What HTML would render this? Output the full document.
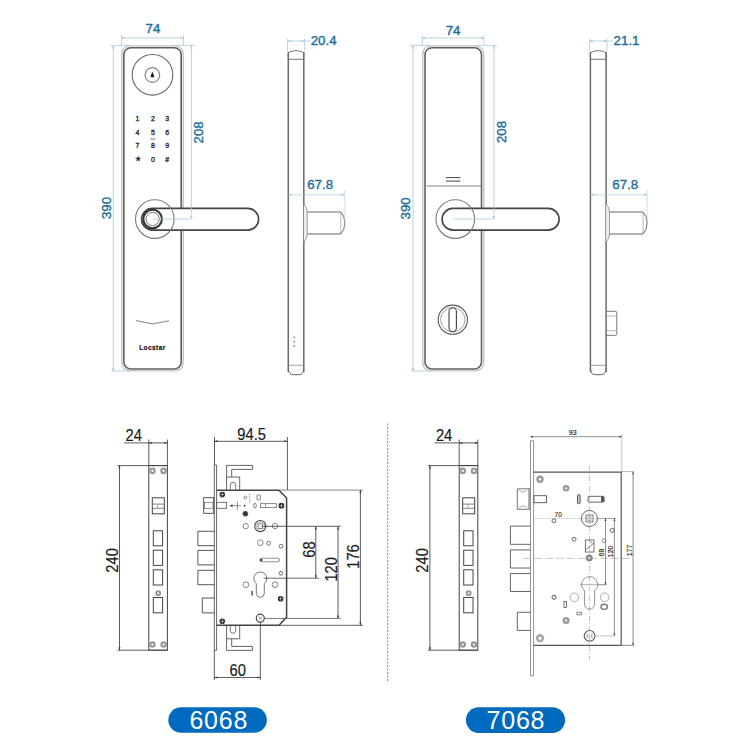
<!DOCTYPE html><html><head><meta charset="utf-8"><style>
html,body{margin:0;padding:0;background:#fff;}
svg{display:block;font-family:"Liberation Sans",sans-serif;}
</style></head><body>
<svg width="750" height="750" viewBox="0 0 750 750">
<rect width="750" height="750" fill="#fff"/>
<line x1="121.5" y1="35" x2="121.5" y2="45.5" stroke="#a6cbdc" stroke-width="0.8" />
<line x1="183.5" y1="35" x2="183.5" y2="45.5" stroke="#a6cbdc" stroke-width="0.8" />
<line x1="121.5" y1="37.9" x2="183.5" y2="37.9" stroke="#a6cbdc" stroke-width="0.8"/>
<path d="M121.5,37.9 l3,-1.2 v2.4z M183.5,37.9 l-3,-1.2 v2.4z" fill="#a6cbdc"/>
<text x="153" y="33" font-size="13.3" fill="#1f6f9c" text-anchor="middle" stroke="#1f6f9c" stroke-width="0.4">74</text>
<line x1="110.2" y1="45.4" x2="129.5" y2="45.4" stroke="#a6cbdc" stroke-width="0.8" />
<line x1="111.2" y1="370.9" x2="133.2" y2="370.9" stroke="#a6cbdc" stroke-width="0.8" />
<line x1="113.2" y1="45.4" x2="113.2" y2="370.9" stroke="#a6cbdc" stroke-width="0.8"/>
<path d="M113.2,45.4 l-1.2,3 h2.4z M113.2,370.9 l-1.2,-3 h2.4z" fill="#a6cbdc"/>
<text x="110.8" y="208" font-size="13.3" fill="#1f6f9c" text-anchor="middle" transform="rotate(-90 110.8 208)" stroke="#1f6f9c" stroke-width="0.4">390</text>
<line x1="175.5" y1="45.4" x2="194.4" y2="45.4" stroke="#a6cbdc" stroke-width="0.8" />
<line x1="191.4" y1="45.4" x2="191.4" y2="219" stroke="#a6cbdc" stroke-width="0.8"/>
<path d="M191.4,45.4 l-1.2,3 h2.4z M191.4,219 l-1.2,-3 h2.4z" fill="#a6cbdc"/>
<text x="203.2" y="132.4" font-size="13.3" fill="#1f6f9c" text-anchor="middle" transform="rotate(-90 203.2 132.4)" stroke="#1f6f9c" stroke-width="0.4">208</text>
<rect x="121.9" y="45.9" width="61.29999999999998" height="325" rx="8" fill="none" stroke="#c4c4c4" stroke-width="1.4"/>
<rect x="123.9" y="47.7" width="57.29999999999998" height="321.3" rx="7" fill="none" stroke="#606060" stroke-width="1.6"/>
<line x1="422.3" y1="35" x2="422.3" y2="45.5" stroke="#a6cbdc" stroke-width="0.8" />
<line x1="483.9" y1="35" x2="483.9" y2="45.5" stroke="#a6cbdc" stroke-width="0.8" />
<line x1="422.3" y1="37.9" x2="483.9" y2="37.9" stroke="#a6cbdc" stroke-width="0.8"/>
<path d="M422.3,37.9 l3,-1.2 v2.4z M483.9,37.9 l-3,-1.2 v2.4z" fill="#a6cbdc"/>
<text x="453.1" y="35.3" font-size="13.3" fill="#1f6f9c" text-anchor="middle" stroke="#1f6f9c" stroke-width="0.4">74</text>
<line x1="410" y1="45.4" x2="430.3" y2="45.4" stroke="#a6cbdc" stroke-width="0.8" />
<line x1="411" y1="370.9" x2="433" y2="370.9" stroke="#a6cbdc" stroke-width="0.8" />
<line x1="413" y1="45.4" x2="413" y2="370.9" stroke="#a6cbdc" stroke-width="0.8"/>
<path d="M413,45.4 l-1.2,3 h2.4z M413,370.9 l-1.2,-3 h2.4z" fill="#a6cbdc"/>
<text x="410.4" y="208.4" font-size="13.3" fill="#1f6f9c" text-anchor="middle" transform="rotate(-90 410.4 208.4)" stroke="#1f6f9c" stroke-width="0.4">390</text>
<line x1="475.9" y1="45.4" x2="496.9" y2="45.4" stroke="#a6cbdc" stroke-width="0.8" />
<line x1="493.9" y1="45.4" x2="493.9" y2="219" stroke="#a6cbdc" stroke-width="0.8"/>
<path d="M493.9,45.4 l-1.2,3 h2.4z M493.9,219 l-1.2,-3 h2.4z" fill="#a6cbdc"/>
<text x="505.5" y="132" font-size="13.3" fill="#1f6f9c" text-anchor="middle" transform="rotate(-90 505.5 132)" stroke="#1f6f9c" stroke-width="0.4">208</text>
<rect x="422.7" y="45.9" width="61.0" height="325" rx="8" fill="none" stroke="#c4c4c4" stroke-width="1.4"/>
<rect x="425" y="47.7" width="56.5" height="321.3" rx="7" fill="none" stroke="#606060" stroke-width="1.6"/>
<circle cx="152.5" cy="74.8" r="20.3" fill="none" stroke="#666" stroke-width="1.1"/>
<circle cx="152.4" cy="75" r="7.3" fill="none" stroke="#888" stroke-width="1.2"/>
<path d="M152.4,71.6 L150.5,76.6 Q152.4,78.6 154.3,76.6 Z" fill="#222"/>
<text x="137.5" y="121.3" font-size="7" fill="#333" text-anchor="middle" stroke="#333" stroke-width="0.35">1</text>
<text x="152.9" y="121.3" font-size="7" fill="#333" text-anchor="middle" stroke="#333" stroke-width="0.35">2</text>
<text x="167.3" y="121.3" font-size="7" fill="#333" text-anchor="middle" stroke="#333" stroke-width="0.35">3</text>
<text x="137.5" y="134.7" font-size="7" fill="#333" text-anchor="middle" stroke="#333" stroke-width="0.35">4</text>
<text x="152.9" y="134.7" font-size="7" fill="#333" text-anchor="middle" stroke="#333" stroke-width="0.35">5</text>
<text x="167.3" y="134.7" font-size="7" fill="#333" text-anchor="middle" stroke="#333" stroke-width="0.35">6</text>
<text x="137.5" y="148.1" font-size="7" fill="#333" text-anchor="middle" stroke="#333" stroke-width="0.35">7</text>
<text x="152.9" y="148.1" font-size="7" fill="#333" text-anchor="middle" stroke="#333" stroke-width="0.35">8</text>
<text x="167.3" y="148.1" font-size="7" fill="#333" text-anchor="middle" stroke="#333" stroke-width="0.35">9</text>
<text x="137.5" y="160.8" font-size="6.5" fill="#333" text-anchor="middle" stroke="#333" stroke-width="0.35">★</text>
<text x="152.9" y="161.5" font-size="7" fill="#333" text-anchor="middle" stroke="#333" stroke-width="0.35">0</text>
<text x="167.3" y="161.5" font-size="7" fill="#333" text-anchor="middle" stroke="#333" stroke-width="0.35">#</text>
<path d="M150.3,138.3 h5.2 M150.3,139.6 h5.2" stroke="#666" stroke-width="0.5"/>
<rect x="141.6" y="208.4" width="117.00000000000003" height="21.7" rx="10.85" fill="#fff" stroke="#454545" stroke-width="1.6"/>
<circle cx="154.8" cy="219.1" r="19.3" fill="none" stroke="#7a7a7a" stroke-width="1.1"/>
<circle cx="152.6" cy="219" r="9.3" fill="none" stroke="#333" stroke-width="2"/>
<circle cx="152.6" cy="219" r="6.6" fill="none" stroke="#666" stroke-width="0.9"/>
<line x1="153" y1="219" x2="191.4" y2="219" stroke="#a6cbdc" stroke-width="0.8" />
<line x1="191.4" y1="206" x2="191.4" y2="219" stroke="#a6cbdc" stroke-width="0.8" />
<path d="M191.4,219 l-1.2,-3 h2.4z" fill="#a6cbdc"/>
<path d="M136,320.6 L152.5,323.8 L169,320.9" fill="none" stroke="#999" stroke-width="1.3"/>
<text x="152.5" y="350" font-size="6.4" fill="#111" text-anchor="middle" font-weight="bold" letter-spacing="0.5" stroke="#111" stroke-width="0.2">Locstar</text>
<line x1="426.5" y1="186" x2="481.3" y2="186" stroke="#777" stroke-width="0.9" />
<path d="M446,177.6 H460.4 M446,181.1 H460.4" stroke="#444" stroke-width="1"/>
<rect x="442.1" y="208.4" width="117.0" height="21.7" rx="10.85" fill="#fff" stroke="#454545" stroke-width="1.6"/>
<circle cx="455.3" cy="219.1" r="19.3" fill="none" stroke="#7a7a7a" stroke-width="1.1"/>
<line x1="453.9" y1="219" x2="493.9" y2="219" stroke="#a6cbdc" stroke-width="0.8" />
<line x1="493.9" y1="206" x2="493.9" y2="219" stroke="#a6cbdc" stroke-width="0.8" />
<path d="M493.9,219 l-1.2,-3 h2.4z" fill="#a6cbdc"/>
<circle cx="452.8" cy="319.7" r="14.6" fill="none" stroke="#555" stroke-width="1.1"/>
<circle cx="452.8" cy="319.7" r="12.2" fill="none" stroke="#888" stroke-width="0.8"/>
<rect x="449" y="307.8" width="7.4" height="24" rx="3.7" fill="none" stroke="#444" stroke-width="1.1"/>
<line x1="287.5" y1="38.5" x2="287.5" y2="51" stroke="#a6cbdc" stroke-width="0.8" />
<line x1="304.6" y1="38.5" x2="304.6" y2="51" stroke="#a6cbdc" stroke-width="0.8" />
<line x1="287.5" y1="41" x2="304.6" y2="41" stroke="#a6cbdc" stroke-width="0.8"/>
<path d="M287.5,41 l3,-1.2 v2.4z M304.6,41 l-3,-1.2 v2.4z" fill="#a6cbdc"/>
<line x1="304.6" y1="41" x2="310.8" y2="41" stroke="#a6cbdc" stroke-width="0.8" />
<text x="310.7" y="45.3" font-size="13.3" fill="#1f6f9c" text-anchor="start" stroke="#1f6f9c" stroke-width="0.4">20.4</text>
<path d="M288.3,58 V52.6 Q296.05,48.6 303.8,52.6 V58" fill="none" stroke="#666" stroke-width="0.9"/>
<line x1="288.3" y1="59.3" x2="303.8" y2="59.3" stroke="#666" stroke-width="0.9" />
<line x1="288.3" y1="52" x2="288.3" y2="372" stroke="#6a6a6a" stroke-width="1.5" />
<line x1="303.8" y1="52" x2="303.8" y2="372" stroke="#6a6a6a" stroke-width="1.5" />
<line x1="288.3" y1="365.3" x2="303.8" y2="365.3" stroke="#888" stroke-width="0.8" />
<path d="M288.3,368 Q288.3,374.7 293.3,374.7 H298.8 Q303.8,374.7 303.8,368" fill="none" stroke="#666" stroke-width="1"/>
<path d="M303.8,203.5 Q307.2,208 307.2,212 V234 Q307.2,238 303.8,242.5" fill="#eee" stroke="#888" stroke-width="0.8"/>
<path d="M307.2,212 H340.8 Q344.8,216 344.8,223 Q344.8,230 340.8,234 H307.2" fill="none" stroke="#666" stroke-width="1"/>
<line x1="340.8" y1="212" x2="340.8" y2="234" stroke="#999" stroke-width="0.7" />
<line x1="288.3" y1="194.8" x2="344.8" y2="194.8" stroke="#a6cbdc" stroke-width="0.7" />
<path d="M288.3,194.8 l3,-1.2 v2.4z M344.8,194.8 l-3,-1.2 v2.4z" fill="#a6cbdc"/>
<line x1="344.8" y1="190" x2="344.8" y2="226" stroke="#a6cbdc" stroke-width="0.6" />
<text x="320.1" y="188.9" font-size="13.3" fill="#1f6f9c" text-anchor="middle" stroke="#1f6f9c" stroke-width="0.4">67.8</text>
<line x1="589.6" y1="38.5" x2="589.6" y2="51" stroke="#a6cbdc" stroke-width="0.8" />
<line x1="606.9" y1="38.5" x2="606.9" y2="51" stroke="#a6cbdc" stroke-width="0.8" />
<line x1="589.6" y1="41" x2="606.9" y2="41" stroke="#a6cbdc" stroke-width="0.8"/>
<path d="M589.6,41 l3,-1.2 v2.4z M606.9,41 l-3,-1.2 v2.4z" fill="#a6cbdc"/>
<line x1="606.9" y1="41" x2="613.1" y2="41" stroke="#a6cbdc" stroke-width="0.8" />
<text x="613.6" y="45.3" font-size="13.3" fill="#1f6f9c" text-anchor="start" stroke="#1f6f9c" stroke-width="0.4">21.1</text>
<path d="M590.4,58 V52.6 Q598.25,48.6 606.1,52.6 V58" fill="none" stroke="#666" stroke-width="0.9"/>
<line x1="590.4" y1="59.3" x2="606.1" y2="59.3" stroke="#666" stroke-width="0.9" />
<line x1="590.4" y1="52" x2="590.4" y2="372" stroke="#6a6a6a" stroke-width="1.5" />
<line x1="606.1" y1="52" x2="606.1" y2="372" stroke="#6a6a6a" stroke-width="1.5" />
<line x1="590.4" y1="365.3" x2="606.1" y2="365.3" stroke="#888" stroke-width="0.8" />
<path d="M590.4,368 Q590.4,374.7 595.4,374.7 H601.1 Q606.1,374.7 606.1,368" fill="none" stroke="#666" stroke-width="1"/>
<path d="M606.1,203.5 Q609.5,208 609.5,212 V234 Q609.5,238 606.1,242.5" fill="#eee" stroke="#888" stroke-width="0.8"/>
<path d="M609.5,212 H643.1 Q647.1,216 647.1,223 Q647.1,230 643.1,234 H609.5" fill="none" stroke="#666" stroke-width="1"/>
<line x1="643.1" y1="212" x2="643.1" y2="234" stroke="#999" stroke-width="0.7" />
<line x1="590.4" y1="194.8" x2="647.1" y2="194.8" stroke="#a6cbdc" stroke-width="0.7" />
<path d="M590.4,194.8 l3,-1.2 v2.4z M647.1,194.8 l-3,-1.2 v2.4z" fill="#a6cbdc"/>
<line x1="647.1" y1="190" x2="647.1" y2="226" stroke="#a6cbdc" stroke-width="0.6" />
<text x="625.3" y="188.9" font-size="13.3" fill="#1f6f9c" text-anchor="middle" stroke="#1f6f9c" stroke-width="0.4">67.8</text>
<circle cx="294.3" cy="337.3" r="1" fill="#999"/>
<circle cx="294.3" cy="341.7" r="1" fill="#999"/>
<circle cx="294.3" cy="346.1" r="1" fill="#999"/>
<path d="M606.3,311.3 H615.5 Q616.8,311.3 616.8,313 V333.5 Q616.8,335.3 615.5,335.3 H606.3" fill="none" stroke="#666" stroke-width="0.9"/>
<line x1="606.3" y1="316" x2="616.8" y2="316" stroke="#999" stroke-width="0.7" />
<line x1="606.3" y1="330.7" x2="616.8" y2="330.7" stroke="#999" stroke-width="0.7" />
<text x="0" y="0" font-size="16" fill="#1a1a1a" text-anchor="middle" transform="translate(133.7 441) rotate(0) scale(0.92 1)" stroke="#1a1a1a" stroke-width="0.2">24</text>
<line x1="124" y1="442.9" x2="167.4" y2="442.9" stroke="#333" stroke-width="0.8" />
<path d="M148.8,442.9 l3,-1 v2z M167.4,442.9 l-3,-1 v2z" fill="#333"/>
<line x1="148.8" y1="439.5" x2="148.8" y2="465.6" stroke="#333" stroke-width="0.8" />
<line x1="167.4" y1="439.5" x2="167.4" y2="465.6" stroke="#333" stroke-width="0.8" />
<line x1="117.5" y1="465.6" x2="167.4" y2="465.6" stroke="#333" stroke-width="0.8" />
<line x1="117.5" y1="650.2" x2="167.4" y2="650.2" stroke="#333" stroke-width="0.8" />
<line x1="119.5" y1="465.6" x2="119.5" y2="650.2" stroke="#333" stroke-width="0.8" />
<path d="M119.5,465.6 l-1,3 h2z M119.5,650.2 l-1,-3 h2z" fill="#333"/>
<text x="0" y="0" font-size="16" fill="#1a1a1a" text-anchor="middle" transform="translate(117.6 560.4) rotate(-90) scale(0.92 1)" stroke="#1a1a1a" stroke-width="0.2">240</text>
<rect x="148.8" y="465.6" width="18.599999999999994" height="184.60000000000002" fill="none" stroke="#444" stroke-width="1"/>
<circle cx="152.4" cy="470.9" r="2.2" fill="none" stroke="#999" stroke-width="2.2"/>
<circle cx="163.6" cy="470.9" r="2.2" fill="none" stroke="#999" stroke-width="2.2"/>
<circle cx="152.4" cy="644.5" r="2.2" fill="none" stroke="#999" stroke-width="2.2"/>
<circle cx="163.6" cy="644.5" r="2.2" fill="none" stroke="#999" stroke-width="2.2"/>
<rect x="152.3" y="497.8" width="12" height="16" fill="none" stroke="#444" stroke-width="1"/>
<line x1="152.3" y1="504.1" x2="164.3" y2="504.1" stroke="#666" stroke-width="0.8" />
<line x1="152.3" y1="508.3" x2="164.3" y2="508.3" stroke="#666" stroke-width="0.8" />
<line x1="157.6" y1="504.1" x2="157.6" y2="508.3" stroke="#888" stroke-width="0.7" />
<rect x="153.3" y="530.8" width="9.3" height="15.0" fill="none" stroke="#444" stroke-width="1"/>
<rect x="153.3" y="550.2" width="9.3" height="15.199999999999932" fill="none" stroke="#444" stroke-width="1"/>
<rect x="153.3" y="569.8" width="9.3" height="15.200000000000045" fill="none" stroke="#444" stroke-width="1"/>
<rect x="153.3" y="597.5" width="9.3" height="15.299999999999955" fill="none" stroke="#444" stroke-width="1"/>
<circle cx="158.2" cy="593.2" r="2" fill="none" stroke="#999" stroke-width="2"/>
<text x="0" y="0" font-size="16" fill="#1a1a1a" text-anchor="middle" transform="translate(444.09999999999997 441) rotate(0) scale(0.92 1)" stroke="#1a1a1a" stroke-width="0.2">24</text>
<line x1="434.4" y1="442.9" x2="477.79999999999995" y2="442.9" stroke="#333" stroke-width="0.8" />
<path d="M459.2,442.9 l3,-1 v2z M477.79999999999995,442.9 l-3,-1 v2z" fill="#333"/>
<line x1="459.2" y1="439.5" x2="459.2" y2="465.6" stroke="#333" stroke-width="0.8" />
<line x1="477.79999999999995" y1="439.5" x2="477.79999999999995" y2="465.6" stroke="#333" stroke-width="0.8" />
<line x1="427.9" y1="465.6" x2="477.79999999999995" y2="465.6" stroke="#333" stroke-width="0.8" />
<line x1="427.9" y1="650.2" x2="477.79999999999995" y2="650.2" stroke="#333" stroke-width="0.8" />
<line x1="429.9" y1="465.6" x2="429.9" y2="650.2" stroke="#333" stroke-width="0.8" />
<path d="M429.9,465.6 l-1,3 h2z M429.9,650.2 l-1,-3 h2z" fill="#333"/>
<text x="0" y="0" font-size="16" fill="#1a1a1a" text-anchor="middle" transform="translate(428.0 560.4) rotate(-90) scale(0.92 1)" stroke="#1a1a1a" stroke-width="0.2">240</text>
<rect x="459.2" y="465.6" width="18.599999999999966" height="184.60000000000002" fill="none" stroke="#444" stroke-width="1"/>
<circle cx="462.79999999999995" cy="470.9" r="2.2" fill="none" stroke="#999" stroke-width="2.2"/>
<circle cx="474.0" cy="470.9" r="2.2" fill="none" stroke="#999" stroke-width="2.2"/>
<circle cx="462.79999999999995" cy="644.5" r="2.2" fill="none" stroke="#999" stroke-width="2.2"/>
<circle cx="474.0" cy="644.5" r="2.2" fill="none" stroke="#999" stroke-width="2.2"/>
<rect x="462.7" y="497.8" width="12" height="16" fill="none" stroke="#444" stroke-width="1"/>
<line x1="462.7" y1="504.1" x2="474.7" y2="504.1" stroke="#666" stroke-width="0.8" />
<line x1="462.7" y1="508.3" x2="474.7" y2="508.3" stroke="#666" stroke-width="0.8" />
<line x1="468.0" y1="504.1" x2="468.0" y2="508.3" stroke="#888" stroke-width="0.7" />
<rect x="463.7" y="530.8" width="9.3" height="15.0" fill="none" stroke="#444" stroke-width="1"/>
<rect x="463.7" y="550.2" width="9.3" height="15.199999999999932" fill="none" stroke="#444" stroke-width="1"/>
<rect x="463.7" y="569.8" width="9.3" height="15.200000000000045" fill="none" stroke="#444" stroke-width="1"/>
<rect x="463.7" y="597.5" width="9.3" height="15.299999999999955" fill="none" stroke="#444" stroke-width="1"/>
<circle cx="468.59999999999997" cy="593.2" r="2" fill="none" stroke="#999" stroke-width="2"/>
<text x="0" y="0" font-size="16" fill="#1a1a1a" text-anchor="middle" transform="translate(251.6 439.5) rotate(0) scale(0.92 1)" stroke="#1a1a1a" stroke-width="0.2">94.5</text>
<line x1="214.5" y1="441.3" x2="287.4" y2="441.3" stroke="#333" stroke-width="0.8" />
<path d="M214.5,441.3 l3,-1 v2z M287.4,441.3 l-3,-1 v2z" fill="#333"/>
<line x1="214.5" y1="437" x2="214.5" y2="465" stroke="#333" stroke-width="0.8" />
<line x1="287.4" y1="437" x2="287.4" y2="490" stroke="#333" stroke-width="0.8" />
<path d="M214.3,465 V650.4 H216.6 V465 Z" fill="none" stroke="#555" stroke-width="0.9"/>
<path d="M226.6,490.3 V465.4 H252.6 V469.4 H231.7 V477 M226.6,477 H239.7 V490.3" fill="none" stroke="#555" stroke-width="0.9"/>
<path d="M230.3,489.5 V485 A2.7,2.7 0 0 1 235.7,485 V489.5" fill="none" stroke="#555" stroke-width="0.8"/>
<path d="M226.6,625.3 V650.4 H252.6 V646.4 H231.7 V638.8 M226.6,638.8 H239.7 V625.3" fill="none" stroke="#555" stroke-width="0.9"/>
<path d="M230.3,626 V630.6 A2.7,2.7 0 0 0 235.7,630.6 V626" fill="none" stroke="#555" stroke-width="0.8"/>
<path d="M216.6,490.3 H279 L286.6,498 V617.3 L279,625.3 H216.6" fill="none" stroke="#444" stroke-width="1.5"/>
<line x1="279" y1="490.1" x2="363" y2="490.1" stroke="#777" stroke-width="0.9" />
<line x1="279" y1="625.3" x2="363" y2="625.3" stroke="#555" stroke-width="0.9" />
<path d="M214.3,531.3 H197.9 V545.7 H214.3" fill="none" stroke="#444" stroke-width="0.9"/>
<path d="M214.3,550.4 H197.9 V564.9 H214.3" fill="none" stroke="#444" stroke-width="0.9"/>
<path d="M214.3,570.3 H197.9 V584.7 H214.3" fill="none" stroke="#444" stroke-width="0.9"/>
<path d="M214.3,598 H202.3 V612.9 H214.3" fill="none" stroke="#444" stroke-width="0.9"/>
<rect x="203.7" y="497.7" width="10" height="15.6" fill="none" stroke="#444" stroke-width="0.9"/>
<rect x="204.5" y="502.3" width="8.5" height="6" fill="none" stroke="#666" stroke-width="0.7"/>
<rect x="216.6" y="502.3" width="10" height="6" fill="none" stroke="#555" stroke-width="0.8"/>
<circle cx="222.3" cy="494.6" r="2.8" fill="#222"/>
<path d="M220.1,494.6 h4.3999999999999995 M222.3,492.40000000000003 v4.3999999999999995" stroke="#fff" stroke-width="0.5"/>
<path d="M230.3,505.7 H241 M230.3,505.7 l2,-1 v2z M237.4,501.5 v8.4" stroke="#444" stroke-width="0.6" fill="#444"/>
<circle cx="244.6" cy="505.7" r="0.9" fill="#333"/>
<circle cx="245.4" cy="497.4" r="1.4" fill="none" stroke="#555" stroke-width="0.7"/>
<line x1="249.7" y1="493.7" x2="249.7" y2="503" stroke="#555" stroke-width="0.7" stroke-dasharray="1.2 1"/>
<rect x="257" y="495" width="3.4" height="4.8" rx="0.6" fill="none" stroke="#555" stroke-width="0.7"/>
<ellipse cx="255" cy="505.7" rx="1.3" ry="2.4" fill="none" stroke="#555" stroke-width="0.7"/>
<rect x="260.3" y="503.7" width="16" height="4" fill="none" stroke="#555" stroke-width="0.7"/>
<line x1="265.6" y1="503.7" x2="265.6" y2="507.7" stroke="#555" stroke-width="0.6" />
<circle cx="281.4" cy="505.7" r="2.9" fill="#222"/>
<path d="M279.1,505.7 h4.6 M281.4,503.40000000000003 v4.6" stroke="#fff" stroke-width="0.5"/>
<circle cx="245.4" cy="513.7" r="2.6" fill="#333" stroke="#888" stroke-width="0.6"/>
<circle cx="245.7" cy="526.1" r="2.7" fill="none" stroke="#777" stroke-width="0.9"/>
<circle cx="275" cy="526.1" r="2.7" fill="none" stroke="#777" stroke-width="0.9"/>
<circle cx="260.3" cy="526.1" r="5.6" fill="none" stroke="#444" stroke-width="1.1"/>
<circle cx="260.3" cy="526.1" r="4.3" fill="none" stroke="#888" stroke-width="0.6"/>
<rect x="258" y="523.8" width="4.6" height="4.6" fill="none" stroke="#555" stroke-width="0.7"/>
<line x1="261.7" y1="526.3" x2="340.7" y2="526.3" stroke="#333" stroke-width="0.8" />
<circle cx="260.3" cy="542.7" r="2.9" fill="none" stroke="#777" stroke-width="0.9"/>
<circle cx="268.6" cy="543.3" r="1.9" fill="none" stroke="#555" stroke-width="0.8"/>
<circle cx="281" cy="546.3" r="1.9" fill="none" stroke="#555" stroke-width="0.8"/>
<rect x="259.7" y="558.3" width="20" height="3.4" rx="1.7" fill="none" stroke="#666" stroke-width="0.7"/>
<circle cx="261.3" cy="560" r="1.2" fill="#333"/>
<circle cx="281" cy="573.3" r="1.9" fill="none" stroke="#555" stroke-width="0.8"/>
<path d="M256.3,583.6 A6.5,6.5 0 1 1 264.3,583.6 V593.3 A4,4 0 0 1 256.3,593.3 Z" fill="none" stroke="#555" stroke-width="0.8"/>
<line x1="263.7" y1="578.2" x2="318.8" y2="578.2" stroke="#444" stroke-width="0.8" />
<circle cx="245.9" cy="584.7" r="2.9" fill="none" stroke="#777" stroke-width="0.9"/>
<circle cx="275" cy="584.7" r="2.9" fill="none" stroke="#777" stroke-width="0.9"/>
<rect x="251.4" y="591" width="1.4" height="4.6" fill="#444"/>
<circle cx="280.6" cy="598.7" r="2.8" fill="#222"/>
<path d="M278.40000000000003,598.7 h4.3999999999999995 M280.6,596.5000000000001 v4.3999999999999995" stroke="#fff" stroke-width="0.5"/>
<circle cx="222.3" cy="621.3" r="2.8" fill="#222"/>
<path d="M220.1,621.3 h4.3999999999999995 M222.3,619.1 v4.3999999999999995" stroke="#fff" stroke-width="0.5"/>
<circle cx="260.3" cy="618.2" r="4" fill="none" stroke="#444" stroke-width="1.2"/>
<path d="M258.5,616.5 l3.6,3.4 M262.1,616.5 l-3.6,3.4" stroke="#666" stroke-width="0.6"/>
<line x1="264.3" y1="618.4" x2="340.7" y2="618.4" stroke="#555" stroke-width="0.8" />
<line x1="260.3" y1="622.2" x2="260.3" y2="680" stroke="#333" stroke-width="0.8" />
<line x1="214.3" y1="650.4" x2="214.3" y2="680" stroke="#333" stroke-width="0.8" />
<text x="0" y="0" font-size="16" fill="#1a1a1a" text-anchor="middle" transform="translate(237.8 675.8) rotate(0) scale(0.92 1)" stroke="#1a1a1a" stroke-width="0.2">60</text>
<line x1="214.3" y1="677.5" x2="260.3" y2="677.5" stroke="#333" stroke-width="0.8" />
<path d="M214.3,677.5 l3,-1 v2z M260.3,677.5 l-3,-1 v2z" fill="#333"/>
<line x1="315.8" y1="526.4" x2="315.8" y2="578.3" stroke="#333" stroke-width="0.8" />
<path d="M315.8,526.4 l-1,3 h2z M315.8,578.3 l-1,-3 h2z" fill="#333"/>
<line x1="338" y1="526.4" x2="338" y2="618.4" stroke="#333" stroke-width="0.8" />
<path d="M338,526.4 l-1,3 h2z M338,618.4 l-1,-3 h2z" fill="#333"/>
<line x1="360.4" y1="490.1" x2="360.4" y2="625.3" stroke="#333" stroke-width="0.8" />
<path d="M360.4,490.1 l-1,3 h2z M360.4,625.3 l-1,-3 h2z" fill="#333"/>
<text x="0" y="0" font-size="16" fill="#1a1a1a" text-anchor="middle" transform="translate(315.2 549.5) rotate(-90) scale(0.92 1)" stroke="#1a1a1a" stroke-width="0.2">68</text>
<text x="0" y="0" font-size="16" fill="#1a1a1a" text-anchor="middle" transform="translate(336.8 569.3) rotate(-90) scale(0.92 1)" stroke="#1a1a1a" stroke-width="0.2">120</text>
<text x="0" y="0" font-size="16" fill="#1a1a1a" text-anchor="middle" transform="translate(359.2 556.5) rotate(-90) scale(0.92 1)" stroke="#1a1a1a" stroke-width="0.2">176</text>
<line x1="387.7" y1="423.5" x2="387.7" y2="682" stroke="#666" stroke-width="0.8" stroke-dasharray="2 1.5"/>
<text x="572.7" y="435" font-size="7" fill="#222" text-anchor="middle" stroke="#222" stroke-width="0.15">93</text>
<line x1="530.5" y1="436.7" x2="621.8" y2="436.7" stroke="#444" stroke-width="0.6" />
<path d="M530.5,436.7 l2.5,-1 v2z M621.8,436.7 l-2.5,-1 v2z" fill="#444"/>
<line x1="621.8" y1="434" x2="621.8" y2="472" stroke="#999" stroke-width="0.6" />
<path d="M530.5,440.8 V675.8 H533.6 V440.8 Z" fill="none" stroke="#777" stroke-width="0.8"/>
<path d="M533.6,472.2 H621.2 V645.3 H533.6" fill="none" stroke="#555" stroke-width="1.2"/>
<line x1="621.2" y1="471.6" x2="634" y2="471.6" stroke="#888" stroke-width="0.6" />
<line x1="621.2" y1="645.3" x2="634" y2="645.3" stroke="#555" stroke-width="0.7" />
<line x1="633.1" y1="471.8" x2="633.1" y2="645.3" stroke="#555" stroke-width="0.7" />
<path d="M633.1,471.8 l-1,2.5 h2z M633.1,645.3 l-1,-2.5 h2z" fill="#555"/>
<text x="632" y="550.5" font-size="7" fill="#222" text-anchor="middle" transform="rotate(-90 632 550.5)" stroke="#222" stroke-width="0.15">177</text>
<line x1="589.5" y1="466" x2="589.5" y2="660" stroke="#aaa" stroke-width="0.7" stroke-dasharray="5 2 1 2"/>
<line x1="523" y1="558.4" x2="634" y2="558.4" stroke="#bbb" stroke-width="0.8" stroke-dasharray="8 3"/>
<line x1="533.6" y1="518.5" x2="600" y2="518.5" stroke="#bbb" stroke-width="0.6" stroke-dasharray="3 1"/>
<path d="M530.5,526.1 H510.4 V544.3 H530.5" fill="none" stroke="#555" stroke-width="0.9"/>
<path d="M530.5,549.9 H510.4 V568 H530.5" fill="none" stroke="#555" stroke-width="0.9"/>
<path d="M530.5,573.6 H510.4 V591.5 H530.5" fill="none" stroke="#555" stroke-width="0.9"/>
<path d="M530.5,612.3 H517.3 V630.4 H530.5" fill="none" stroke="#555" stroke-width="0.9"/>
<path d="M530.4,488.8 H517.3 V509.3 H530.4" fill="none" stroke="#666" stroke-width="0.9"/>
<rect x="528.3" y="488.8" width="2.1" height="20.5" fill="#999"/>
<path d="M519,490 Q523,494 527,490 M519,508 Q523,504 527,508" fill="none" stroke="#888" stroke-width="0.7"/>
<rect x="533.9" y="495.7" width="12.5" height="7" fill="none" stroke="#555" stroke-width="0.9"/>
<circle cx="540" cy="479.2" r="2.5" fill="none" stroke="#999" stroke-width="2.4"/>
<circle cx="566.1" cy="488.3" r="2.2" fill="none" stroke="#999" stroke-width="2.2"/>
<rect x="577.5" y="494.7" width="2.6" height="9" rx="0.8" fill="#ccc" stroke="#555" stroke-width="1"/>
<rect x="588.1" y="496.3" width="16" height="5.8" rx="0.8" fill="none" stroke="#555" stroke-width="0.9"/>
<rect x="601" y="496.5" width="3" height="5.4" fill="#555"/>
<text x="558.2" y="517" font-size="6.5" fill="#333" text-anchor="middle" stroke="#333" stroke-width="0.15">70</text>
<circle cx="553.9" cy="520.8" r="1.9" fill="none" stroke="#444" stroke-width="0.8"/>
<circle cx="589.4" cy="518.5" r="8" fill="none" stroke="#555" stroke-width="0.9"/>
<rect x="586" y="515" width="7" height="7" fill="none" stroke="#555" stroke-width="0.8"/>
<path d="M588,516.5 h3 v4 h-3z" fill="none" stroke="#777" stroke-width="0.5"/>
<line x1="597.7" y1="518.5" x2="615.9" y2="518.5" stroke="#666" stroke-width="0.6" />
<line x1="605.5" y1="518.5" x2="605.5" y2="584.7" stroke="#444" stroke-width="0.6" />
<path d="M605.5,518.5 l-1,2.5 h2z M605.5,584.7 l-1,-2.5 h2z" fill="#444"/>
<line x1="614.4" y1="518.5" x2="614.4" y2="635.9" stroke="#444" stroke-width="0.6" />
<path d="M614.4,518.5 l-1,2.5 h2z M614.4,635.9 l-1,-2.5 h2z" fill="#444"/>
<text x="603.8" y="552.6" font-size="7" fill="#222" text-anchor="middle" transform="rotate(-90 603.8 552.6)" stroke="#222" stroke-width="0.15">68</text>
<text x="613.2" y="551.6" font-size="7" fill="#222" text-anchor="middle" transform="rotate(-90 613.2 551.6)" stroke="#222" stroke-width="0.15">120</text>
<circle cx="612.3" cy="530.4" r="2" fill="none" stroke="#444" stroke-width="0.8"/>
<circle cx="574.1" cy="539.3" r="1.9" fill="none" stroke="#444" stroke-width="0.8"/>
<circle cx="604" cy="540.7" r="1.9" fill="none" stroke="#666" stroke-width="0.7"/>
<g transform="translate(585.3 540)"><rect x="0" y="0" width="8.7" height="12" fill="none" stroke="#555" stroke-width="0.8"/><path d="M0,10 L8.7,3 M4,1 l3,2" stroke="#555" stroke-width="0.7"/></g>
<circle cx="589.3" cy="558" r="2.3" fill="none" stroke="#888" stroke-width="2.2"/>
<path d="M584.6,590.9 A8,8 0 1 1 594.6,590.9 V604.2 A5,5 0 0 1 584.6,604.2 Z" fill="none" stroke="#777" stroke-width="0.8"/>
<line x1="580" y1="584.7" x2="599" y2="584.7" stroke="#777" stroke-width="0.6" />
<line x1="598.7" y1="584.7" x2="606.5" y2="584.7" stroke="#444" stroke-width="0.6" />
<circle cx="554" cy="597.3" r="2" fill="none" stroke="#444" stroke-width="0.9"/>
<circle cx="574.4" cy="597.3" r="4.3" fill="none" stroke="#999" stroke-width="0.8"/>
<circle cx="604.7" cy="597.3" r="4.3" fill="none" stroke="#999" stroke-width="0.8"/>
<rect x="564" y="601.5" width="2.6" height="6" fill="none" stroke="#555" stroke-width="0.8"/>
<ellipse cx="604.2" cy="606.8" rx="3.2" ry="2.6" fill="#fff" stroke="#777" stroke-width="1.4"/>
<rect x="577" y="612.2" width="4.5" height="2.6" fill="none" stroke="#555" stroke-width="0.7"/>
<circle cx="566.1" cy="620.4" r="2.3" fill="none" stroke="#999" stroke-width="2.4"/>
<circle cx="589.6" cy="635.9" r="5.4" fill="none" stroke="#555" stroke-width="1.1"/>
<path d="M587,633 v5.5 M592,633 v5.5 M587,635.9 h5" stroke="#777" stroke-width="0.6"/>
<line x1="596" y1="635.9" x2="615.2" y2="635.9" stroke="#999" stroke-width="0.6" />
<circle cx="540" cy="638.3" r="2.9" fill="none" stroke="#aaa" stroke-width="2.6"/>
<rect x="168.3" y="707.2" width="98.6" height="25.6" rx="12.8" fill="#006abe"/>
<rect x="465.9" y="707.3" width="99.2" height="25.6" rx="12.8" fill="#006abe"/>
<text x="218.8" y="728.8" font-size="25" fill="#fff" text-anchor="middle" letter-spacing="0.8">6068</text>
<text x="515.9" y="728.9" font-size="25" fill="#fff" text-anchor="middle" letter-spacing="0.8">7068</text>
</svg></body></html>
